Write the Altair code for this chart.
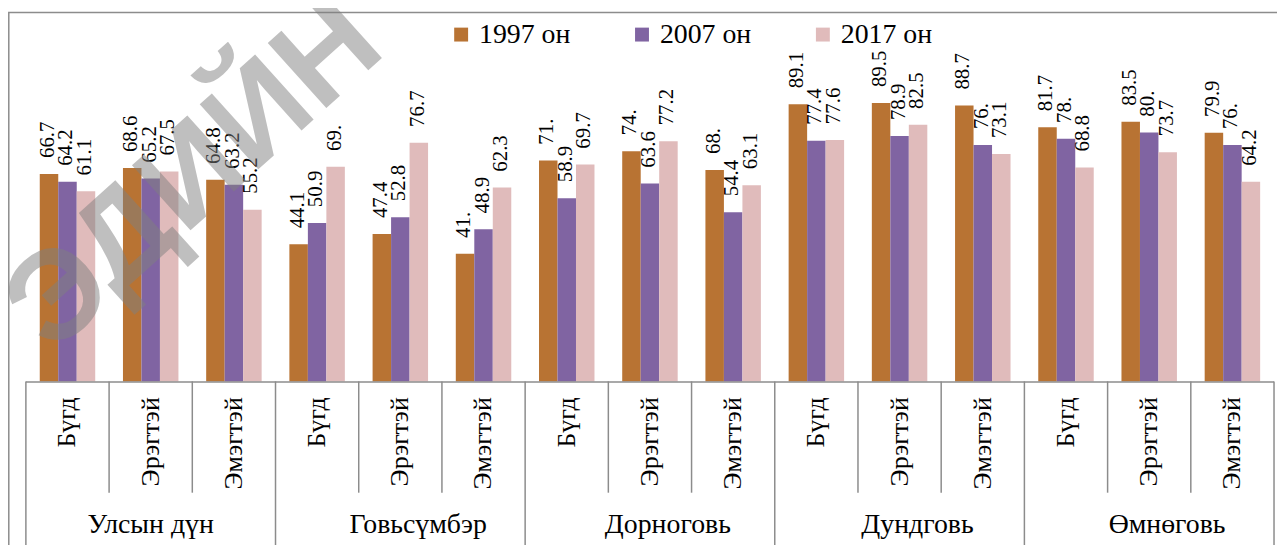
import altair as alt
import pandas as pd

regions = ["Улсын дүн", "Говьсүмбэр", "Дорноговь", "Дундговь", "Өмнөговь"]
subs = ["Бүгд", "Эрэгтэй", "Эмэгтэй"]
series = ["1997 он", "2007 он", "2017 он"]
colors = ["#B87333", "#8064A2", "#E0BBBB"]

v1997 = [66.7, 68.6, 64.8, 44.1, 47.4, 41.0, 71.0, 74.0, 68.0, 89.1, 89.5, 88.7, 81.7, 83.5, 79.9]
v2007 = [64.2, 65.2, 63.2, 50.9, 52.8, 48.9, 58.9, 63.6, 54.4, 77.4, 78.9, 76.0, 78.0, 80.0, 76.0]
v2017 = [61.1, 67.5, 55.2, 69.0, 76.7, 62.3, 69.7, 77.2, 63.1, 77.6, 82.5, 73.1, 68.8, 73.7, 64.2]

watermark = "ЭДИЙН"

W, H = 1256, 313
FONT = "Times New Roman, Liberation Serif, serif"
GRID = "#8C8C8C"

cats = [f"{r}|{s}" for r in regions for s in subs]

rows = []
for i, c in enumerate(cats):
    for name, vals in zip(series, [v1997, v2007, v2017]):
        v = vals[i]
        s = f"{v:.1f}"
        if s.endswith("0"):
            s = s[:-1]
        rows.append(dict(cat=c, series=name, value=v, label=s))
df = pd.DataFrame(rows)

catdf = pd.DataFrame({
    "cat": cats,
    "sub": [c.split("|")[1] for c in cats],
    "region": [c.split("|")[0] for c in cats],
    "pos": [i % 3 for i in range(len(cats))],
    "grp": [i // 3 for i in range(len(cats))],
    "last": [i == len(cats) - 1 for i in range(len(cats))],
})

xscale = alt.Scale(domain=cats, paddingInner=0, paddingOuter=0)
X = alt.X("cat:N", scale=xscale, axis=None, sort=cats)
XO = alt.XOffset("series:N", sort=series, scale=alt.Scale(domain=series, paddingInner=0, paddingOuter=0.75))
Y = alt.Y("value:Q", scale=alt.Scale(domain=[0, 100], nice=False, zero=True), axis=None)

bars = alt.Chart(df).mark_bar().encode(
    x=X, xOffset=XO, y=Y,
    color=alt.Color("series:N", sort=series,
                    scale=alt.Scale(domain=series, range=colors),
                    legend=alt.Legend(orient="none", legendX=424, legendY=-50,
                                      direction="horizontal", title=None,
                                      symbolType="square", symbolSize=196,
                                      symbolStrokeWidth=0, labelFont=FONT,
                                      labelFontSize=28, labelColor="black",
                                      labelOffset=4, columnPadding=58,
                                      gridAlign="all"))
)

labels = alt.Chart(df).mark_text(angle=270, align="left", baseline="middle",
                                 dx=16, dy=-1, font=FONT, fontSize=21,
                                 color="black").encode(
    x=X, xOffset=XO, y=Y, text="label:N"
)

base = alt.Chart(catdf)

axis_line = base.transform_filter("datum.cat == '%s'" % cats[0]).mark_rule(
    color=GRID, strokeWidth=1.5).encode(
    x=alt.value(0), x2=alt.value(W), y=alt.value(H + 0.5)
)

sub_sep = base.transform_filter("datum.pos != 0").mark_rule(
    color=GRID, strokeWidth=1.5).encode(
    x=alt.X("cat:N", scale=xscale, axis=None, sort=cats, bandPosition=0),
    y=alt.value(H), y2=alt.value(H + 112)
)
reg_sep = base.transform_filter("datum.pos == 0").mark_rule(
    color=GRID, strokeWidth=1.5).encode(
    x=alt.X("cat:N", scale=xscale, axis=None, sort=cats, bandPosition=0),
    y=alt.value(H), y2=alt.value(H + 200)
)
end_sep = base.transform_filter("datum.last").mark_rule(
    color=GRID, strokeWidth=1.5).encode(
    x=alt.X("cat:N", scale=xscale, axis=None, sort=cats, bandPosition=1),
    y=alt.value(H), y2=alt.value(H + 200)
)

sub_text = base.mark_text(angle=270, align="right", baseline="middle",
                          font=FONT, fontSize=26, color="black").encode(
    x=alt.X("cat:N", scale=xscale, axis=None, sort=cats),
    y=alt.value(H + 16), text="sub:N"
)
reg_text1 = base.transform_filter("datum.pos == 1 && datum.grp == 0").mark_text(
    align="center", baseline="middle", font=FONT, fontSize=28,
    color="black").encode(
    x=alt.X("cat:N", scale=xscale, axis=None, sort=cats),
    y=alt.value(H + 145), text="region:N"
)
reg_text2 = base.transform_filter("datum.pos == 1 && datum.grp > 0").mark_text(
    align="center", baseline="middle", font=FONT, fontSize=28, dx=18,
    color="black").encode(
    x=alt.X("cat:N", scale=xscale, axis=None, sort=cats),
    y=alt.value(H + 145), text="region:N"
)

one = pd.DataFrame({"k": [0]})
border = alt.Chart(one).mark_rect(fillOpacity=0, stroke=GRID, strokeWidth=1.5).encode(
    x=alt.value(-17.2), x2=alt.value(W + 60), y=alt.value(-58.2), y2=alt.value(H + 300)
)
wm = alt.Chart(one).mark_text(text=watermark, font="Liberation Sans", fontSize=128,
                              fontWeight="bold", angle=318, color="#808080",
                              opacity=0.5, align="center", baseline="middle").encode(
    x=alt.value(170), y=alt.value(106)
)

chart = alt.layer(border, bars, labels, axis_line, sub_sep, reg_sep, end_sep,
                  sub_text, reg_text1, reg_text2, wm).properties(
    width=W, height=H,
    autosize=alt.AutoSizeParams(type="none"),
    padding={"left": 18, "top": 61, "right": 3, "bottom": 180},
    background="white",
).configure_view(strokeWidth=0)

chart.save("out.html", embed_options={"renderer": "svg", "actions": False})
